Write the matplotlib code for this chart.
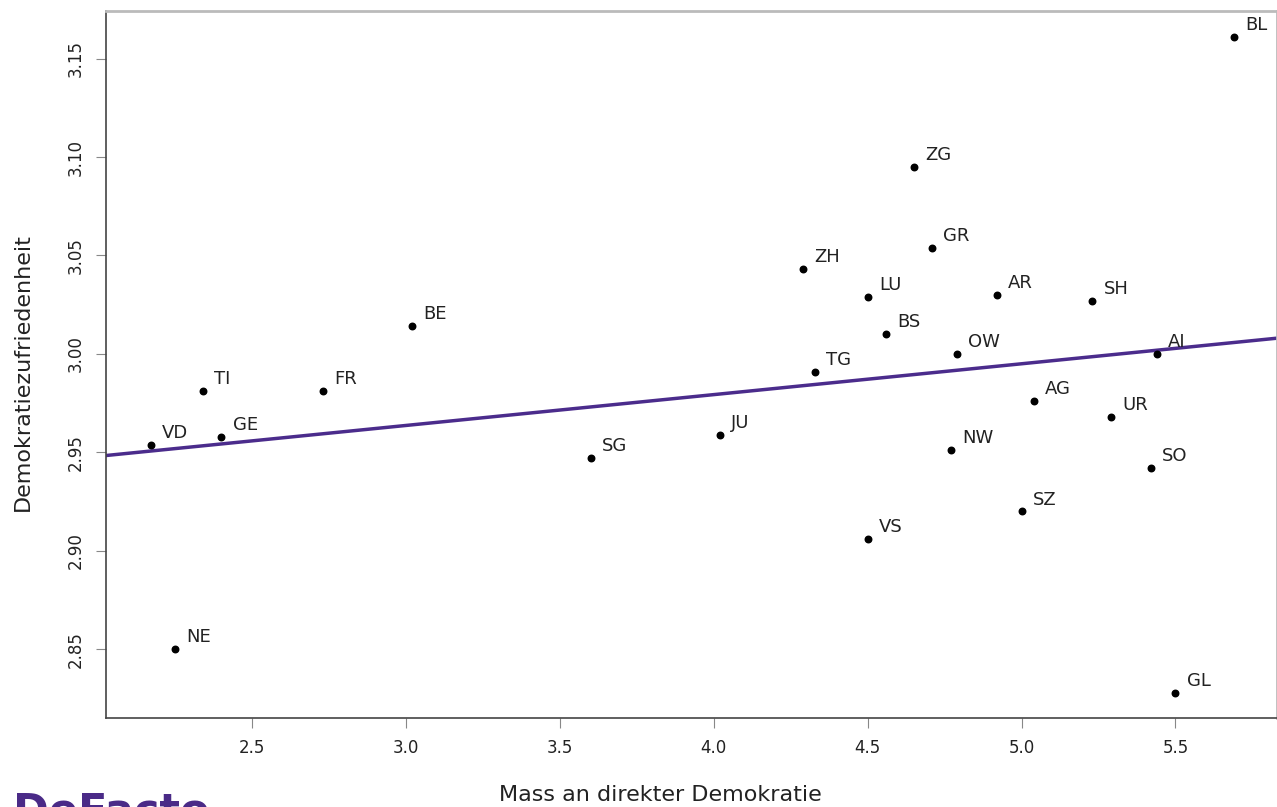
import matplotlib.pyplot as plt
import numpy as np

kantone = ["BL", "ZG", "GR", "ZH", "LU", "AR", "SH", "BS", "BE", "OW", "AI", "TG", "TI",
           "FR", "AG", "UR", "VD", "GE", "JU", "SG", "NW", "SO", "SZ", "VS", "NE", "GL"]
direkte_demokratie = [5.69, 4.65, 4.71, 4.29, 4.50, 4.92, 5.23, 4.56, 3.02, 4.79, 5.44, 4.33, 2.34,
                      2.73, 5.04, 5.29, 2.17, 2.40, 4.02, 3.60, 4.77, 5.42, 5.00, 4.50, 2.25, 5.50]
zufriedenheit = [3.161, 3.095, 3.054, 3.043, 3.029, 3.030, 3.027, 3.010, 3.014, 3.000, 3.000, 2.991, 2.981,
                 2.981, 2.976, 2.968, 2.954, 2.958, 2.959, 2.947, 2.951, 2.942, 2.920, 2.906, 2.850, 2.828]

x = np.array(direkte_demokratie)
y = np.array(zufriedenheit)

fig = plt.figure(figsize=(12.77, 8.07), dpi=100)
ax = fig.add_axes([0.083, 0.110, 0.917, 0.876])

ax.scatter(x, y, s=22, color="black", zorder=3)
for k, xi, yi in zip(kantone, x, y):
    ax.annotate(k, (xi, yi), xytext=(8, 5), textcoords="offset points",
                fontsize=13, color="#222222")

# Regressionsgerade
m, b = np.polyfit(x, y, 1)
xs = np.array([2.0, 6.0])
ax.plot(xs, m * xs + b, color="#4b2c8c", lw=2.5, zorder=2)

ax.set_xlim(2.025, 5.83)
ax.set_ylim(2.815, 3.174)
ax.set_xticks([2.5, 3.0, 3.5, 4.0, 4.5, 5.0, 5.5])
ax.set_yticks([2.85, 2.90, 2.95, 3.00, 3.05, 3.10, 3.15])
ax.set_yticklabels(["2.85", "2.90", "2.95", "3.00", "3.05", "3.10", "3.15"],
                   rotation=90, va="center")
ax.tick_params(direction="out", length=7, color="#888888", labelsize=12, labelcolor="#222222", pad=8)

for s in ["left", "bottom"]:
    ax.spines[s].set_color("#444444")
    ax.spines[s].set_linewidth(1.2)
for s in ["top", "right"]:
    ax.spines[s].set_color("#bbbbbb")
    ax.spines[s].set_linewidth(2)

fig.text(0.517, 0.003, "Mass an direkter Demokratie", ha="center", va="bottom",
         fontsize=16, color="#222222")
fig.text(0.018, 0.539, "Demokratiezufriedenheit", rotation=90, ha="center", va="center",
         fontsize=16, color="#222222")
fig.text(0.010, -0.032, "DeFacto", fontsize=31, fontweight="bold", color="#4a2a87",
         ha="left", va="bottom")

fig.savefig("out.png", dpi=100)
